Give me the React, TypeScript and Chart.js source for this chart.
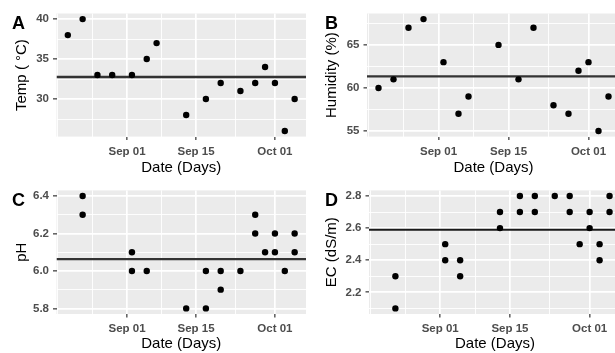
import React, { useEffect, useRef } from "react";
import { Chart, registerables } from "chart.js";

Chart.register(...registerables);

// ---------- data ----------
const sampleDates = [
  "2020-08-20", "2020-08-23", "2020-08-26", "2020-08-29", "2020-09-02", "2020-09-05",
  "2020-09-07", "2020-09-13", "2020-09-17", "2020-09-20", "2020-09-24", "2020-09-27",
  "2020-09-29", "2020-10-01", "2020-10-03", "2020-10-05",
];
const tempValues = [38, 40, 33, 33, 33, 35, 37, 28, 30, 32, 31, 32, 34, 32, 26, 30];
const humidityValues = [60, 61, 67, 68, 63, 57, 59, 65, 61, 67, 58, 57, 62, 63, 55, 59];

const phDates = [
  "2020-08-23", "2020-08-23", "2020-09-02", "2020-09-02", "2020-09-05", "2020-09-13",
  "2020-09-17", "2020-09-17", "2020-09-20", "2020-09-20", "2020-09-24", "2020-09-27",
  "2020-09-27", "2020-09-29", "2020-10-01", "2020-10-01", "2020-10-03", "2020-10-05",
  "2020-10-05",
];
const phValues = [6.4, 6.3, 6.1, 6.0, 6.0, 5.8, 6.0, 5.8, 6.0, 5.9, 6.0, 6.3, 6.2, 6.1, 6.2, 6.1, 6.0, 6.2, 6.1];

const ecDates = [
  "2020-08-23", "2020-08-23", "2020-09-02", "2020-09-02", "2020-09-05", "2020-09-05",
  "2020-09-13", "2020-09-13", "2020-09-17", "2020-09-17", "2020-09-20", "2020-09-20",
  "2020-09-24", "2020-09-27", "2020-09-27", "2020-09-29", "2020-10-01", "2020-10-01",
  "2020-10-03", "2020-10-03", "2020-10-05", "2020-10-05",
];
const ecValues = [2.3, 2.1, 2.5, 2.4, 2.4, 2.3, 2.7, 2.6, 2.8, 2.7, 2.8, 2.7, 2.8, 2.8, 2.7, 2.5, 2.7, 2.6, 2.5, 2.4, 2.8, 2.7];

// horizontal reference (mean) lines
const tempMean = 32.75;
const humidityMean = 61.35;
const phMean = 6.063;
const ecMean = 2.59;

// axis ticks
const xMajorDates = ["2020-09-01", "2020-09-15", "2020-10-01"];
const xMajorLabels = ["Sep 01", "Sep 15", "Oct 01"];
const xMinorDates = ["2020-08-18", "2020-08-25", "2020-09-08", "2020-09-23"];

const tempTicks = [30, 35, 40];
const tempMinorTicks = [27.5, 32.5, 37.5];
const humidityTicks = [55, 60, 65];
const humidityMinorTicks = [57.5, 62.5, 67.5];
const phTicks = [5.8, 6.0, 6.2, 6.4];
const phMinorTicks = [5.9, 6.1, 6.3];
const ecTicks = [2.2, 2.4, 2.6, 2.8];
const ecMinorTicks = [2.1, 2.3, 2.5, 2.7];

const xTitle = "Date (Days)";

// ---------- helpers ----------
const FONT = '"Liberation Sans", Arial, Helvetica, sans-serif';
Chart.defaults.font.family = FONT;

function dayNum(s: string): number {
  const [y, m, d] = s.split("-").map(Number);
  return Date.UTC(y, m - 1, d) / 86400000;
}

const allDays = [...sampleDates, ...phDates, ...ecDates].map(dayNum);
const dMin = Math.min(...allDays);
const dMax = Math.max(...allDays);
const xMin = dMin - (dMax - dMin) * 0.05;
const xMax = dMax + (dMax - dMin) * 0.05;

const xMajor = xMajorDates.map(dayNum);
const xMinor = xMinorDates.map(dayNum);

const near = (a: number, b: number) => Math.abs(a - b) < 1e-6;

interface Geo {
  left: number; top: number; width: number; height: number;
  areaLeft: number; areaRight: number; areaTop: number; areaBottom: number;
  tagX: number;
}

interface PanelProps {
  tag: string;
  yTitle: string;
  dates: string[];
  values: number[];
  mean: number;
  yMajor: number[];
  yMinor: number[];
  decimals: number;
  geo: Geo;
  lineColor: string;
  lineWidth: number;
}

const tickFont = { size: 11.5, weight: "bold" as const };

function Panel(p: PanelProps) {
  const ref = useRef<HTMLCanvasElement | null>(null);
  useEffect(() => {
    if (!ref.current) return;
    const g = p.geo;
    const vMin = Math.min(...p.values);
    const vMax = Math.max(...p.values);
    const yMin = vMin - (vMax - vMin) * 0.05;
    const yMax = vMax + (vMax - vMin) * 0.05;
    const points = p.dates.map((d, i) => ({ x: dayNum(d), y: p.values[i] }));

    const bg = {
      id: "panelBg",
      beforeDraw(chart: any) {
        const { ctx, chartArea: a } = chart;
        ctx.save();
        ctx.fillStyle = "#FFFFFF";
        ctx.fillRect(0, 0, chart.width, chart.height);
        ctx.fillStyle = "#EBEBEB";
        ctx.fillRect(a.left, a.top, a.right - a.left, a.bottom - a.top);
        ctx.restore();
      },
    };
    const tagPlugin = {
      id: "panelTag",
      afterDraw(chart: any) {
        const { ctx, chartArea: a } = chart;
        ctx.save();
        ctx.font = `bold 18px ${FONT}`;
        ctx.fillStyle = "#000000";
        ctx.textBaseline = "alphabetic";
        ctx.textAlign = "left";
        ctx.fillText(p.tag, g.tagX, a.top + 15.5);
        ctx.restore();
      },
    };

    const xAll = [...xMajor, ...xMinor].sort((a, b) => a - b);
    const yAll = [...p.yMajor, ...p.yMinor].sort((a, b) => a - b);
    const isXMajor = (v: number) => xMajor.some((m) => near(m, v));
    const isYMajor = (v: number) => p.yMajor.some((m) => near(m, v));

    const chart = new Chart(ref.current, {
      type: "scatter",
      data: {
        datasets: [
          {
            type: "line",
            data: [{ x: xMin, y: p.mean }, { x: xMax, y: p.mean }],
            borderColor: p.lineColor,
            borderWidth: p.lineWidth,
            pointRadius: 0,
            showLine: true,
            order: 1,
          } as any,
          {
            data: points,
            backgroundColor: "#000000",
            borderColor: "#000000",
            borderWidth: 0,
            pointRadius: 3.2,
            order: 0,
          },
        ],
      },
      options: {
        responsive: false,
        animation: false,
        devicePixelRatio: 1,
        layout: {
          padding: { left: 0, top: g.areaTop, right: g.width - g.areaRight, bottom: 0 },
        },
        plugins: { legend: { display: false }, tooltip: { enabled: false } },
        scales: {
          x: {
            type: "linear",
            min: xMin,
            max: xMax,
            afterBuildTicks: (s: any) => { s.ticks = xAll.map((v) => ({ value: v })); },
            afterFit: (s: any) => { s.height = g.height - g.areaBottom; },
            border: { display: false },
            grid: {
              color: "#FFFFFF",
              lineWidth: (c: any) => (c.tick && isXMajor(c.tick.value) ? 1.7 : 0.9),
              drawTicks: true,
              tickLength: 3.5,
              tickWidth: 1.2,
              tickColor: (c: any) => (c.tick && isXMajor(c.tick.value) ? "#333333" : "rgba(0,0,0,0)"),
            },
            ticks: {
              autoSkip: false,
              maxRotation: 0,
              padding: 4.5,
              color: "#4D4D4D",
              font: tickFont,
              callback: (v: any) => {
                const i = xMajor.findIndex((m) => near(m, Number(v)));
                return i >= 0 ? xMajorLabels[i] : "";
              },
            },
            title: { display: true, text: xTitle, color: "#000000", font: { size: 15 }, padding: { top: 0, bottom: 0 } },
          },
          y: {
            type: "linear",
            min: yMin,
            max: yMax,
            afterBuildTicks: (s: any) => { s.ticks = yAll.map((v) => ({ value: v })); },
            afterFit: (s: any) => { s.width = g.areaLeft; },
            border: { display: false },
            grid: {
              color: "#FFFFFF",
              lineWidth: (c: any) => (c.tick && isYMajor(c.tick.value) ? 1.7 : 0.9),
              drawTicks: true,
              tickLength: 3.5,
              tickWidth: 1.2,
              tickColor: (c: any) => (c.tick && isYMajor(c.tick.value) ? "#333333" : "rgba(0,0,0,0)"),
            },
            ticks: {
              autoSkip: false,
              padding: 4,
              color: "#4D4D4D",
              font: tickFont,
              callback: (v: any) => (isYMajor(Number(v)) ? Number(v).toFixed(p.decimals) : ""),
            },
            title: { display: true, text: p.yTitle, color: "#000000", font: { size: 15 }, padding: { top: 12.5, bottom: 0 } },
          },
        },
      },
      plugins: [bg, tagPlugin],
    });
    return () => chart.destroy();
  }, []);

  const g = p.geo;
  return (
    <div style={{ position: "absolute", left: g.left, top: g.top, width: g.width, height: g.height }}>
      <canvas ref={ref} width={g.width} height={g.height} style={{ display: "block", width: g.width, height: g.height }} />
    </div>
  );
}

const geoA: Geo = { left: 0, top: 0, width: 310, height: 177, areaLeft: 56.5, areaRight: 309.5, areaTop: 13.5, areaBottom: 136.6, tagX: 12 };
const geoB: Geo = { left: 310, top: 0, width: 315, height: 177, areaLeft: 57, areaRight: 310, areaTop: 13.5, areaBottom: 136.6, tagX: 15 };
const geoC: Geo = { left: 0, top: 177, width: 310, height: 176, areaLeft: 56.5, areaRight: 309.5, areaTop: 13.4, areaBottom: 137, tagX: 12 };
const geoD: Geo = { left: 310, top: 177, width: 315, height: 176, areaLeft: 59, areaRight: 312, areaTop: 13.4, areaBottom: 137, tagX: 15 };

export default function App() {
  return (
    <div style={{ position: "fixed", left: 0, top: 0, width: 615, height: 353, overflow: "hidden", background: "#FFFFFF" }}>
      <Panel tag="A" yTitle="Temp ( °C)" dates={sampleDates} values={tempValues} mean={tempMean}
        yMajor={tempTicks} yMinor={tempMinorTicks} decimals={0} geo={geoA} lineColor="#333333" lineWidth={2.4} />
      <Panel tag="B" yTitle="Humidity (%)" dates={sampleDates} values={humidityValues} mean={humidityMean}
        yMajor={humidityTicks} yMinor={humidityMinorTicks} decimals={0} geo={geoB} lineColor="#333333" lineWidth={2.4} />
      <Panel tag="C" yTitle="pH" dates={phDates} values={phValues} mean={phMean}
        yMajor={phTicks} yMinor={phMinorTicks} decimals={1} geo={geoC} lineColor="#333333" lineWidth={2.4} />
      <Panel tag="D" yTitle="EC (dS/m)" dates={ecDates} values={ecValues} mean={ecMean}
        yMajor={ecTicks} yMinor={ecMinorTicks} decimals={1} geo={geoD} lineColor="#1a1a1a" lineWidth={1.8} />
    </div>
  );
}
